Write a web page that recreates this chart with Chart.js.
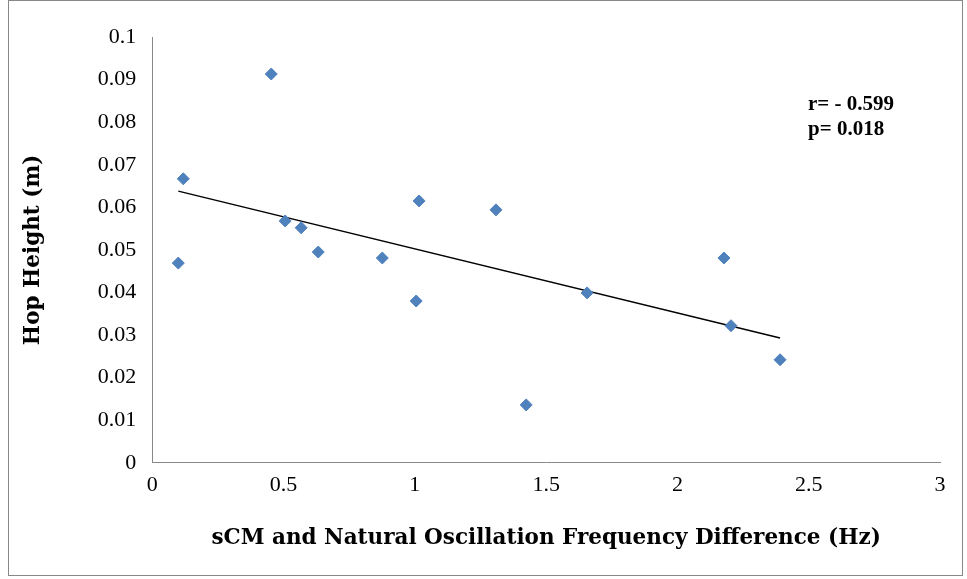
<!DOCTYPE html>
<html>
<head>
<meta charset="utf-8">
<script src="https://cdn.jsdelivr.net/npm/chart.js@4"></script>
<style>
  body { margin: 0; background: #fff; }
  #wrap { position: absolute; left: 8px; top: 0; width: 955px; height: 576px; border: 1px solid #888; box-sizing: border-box; }
  canvas { position: absolute; left: 0; top: 0; }
</style>
</head>
<body>
<div id="wrap"><canvas id="myChart" width="955" height="576"></canvas></div>
<script>
// frecuencia (Hz) vs altura de salto (m)
const freqDiff = [0.099, 0.118, 0.453, 0.506, 0.567, 0.632, 0.876, 1.005, 1.016, 1.309, 1.424, 1.656, 2.177, 2.204, 2.391];
const hopHeight = [0.0469, 0.0667, 0.0913, 0.0568, 0.0552, 0.0495, 0.0481, 0.0380, 0.0615, 0.0594, 0.0136, 0.0399, 0.0481, 0.0322, 0.0242];
const trendX = [0.099, 2.391];
const trendY = [0.0638, 0.0293];
const statsText = ["r= - 0.599", "p= 0.018"];

const puntos = freqDiff.map((x, i) => ({ x: x, y: hopHeight[i] }));
const tendencia = trendX.map((x, i) => ({ x: x, y: trendY[i] }));

const statsPlugin = {
  id: "stats",
  afterDraw(chart) {
    const c = chart.ctx;
    c.save();
    c.font = "bold 21px 'Liberation Serif'";
    c.fillStyle = "#000";
    c.fillText(statsText[0], 799, 109);
    c.fillText(statsText[1], 799, 134);
    c.restore();
  }
};

const fmt = v => String(Number(v.toFixed(2)));

new Chart(document.getElementById("myChart"), {
  type: "scatter",
  data: {
    datasets: [
      {
        data: puntos,
        pointStyle: "rectRot",
        pointRadius: 6,
        backgroundColor: "#4f81bd",
        borderColor: "#4f81bd"
      },
      {
        type: "line",
        data: tendencia,
        borderColor: "#000",
        borderWidth: 1.5,
        pointRadius: 0,
        fill: false
      }
    ]
  },
  options: {
    responsive: false,
    animation: false,
    layout: { padding: { top: 36, right: 24, left: 12, bottom: 26 } },
    plugins: { legend: { display: false }, tooltip: { enabled: false } },
    scales: {
      x: {
        min: 0, max: 3,
        ticks: { stepSize: 0.5, color: "#000", callback: fmt, font: { family: "Liberation Serif", size: 22 } },
        grid: { display: false, drawTicks: true, tickLength: 6, color: "#888" },
        border: { color: "#888" },
        title: { display: true, padding: { top: 24, bottom: 0 }, text: "sCM and Natural Oscillation Frequency Difference (Hz)", color: "#000", font: { family: "DejaVu Serif", weight: "bold", size: 21.5 } }
      },
      y: {
        min: 0, max: 0.1,
        ticks: { stepSize: 0.01, padding: 10, color: "#000", callback: fmt, font: { family: "Liberation Serif", size: 22 } },
        grid: { display: false, tickLength: 6, color: "#888" },
        border: { color: "#888" },
        title: { display: true, padding: { top: 0, bottom: 41 }, text: "Hop Height (m)", color: "#000", font: { family: "DejaVu Serif", weight: "bold", size: 21.5 } }
      }
    }
  },
  plugins: [statsPlugin]
});
</script>
</body>
</html>
